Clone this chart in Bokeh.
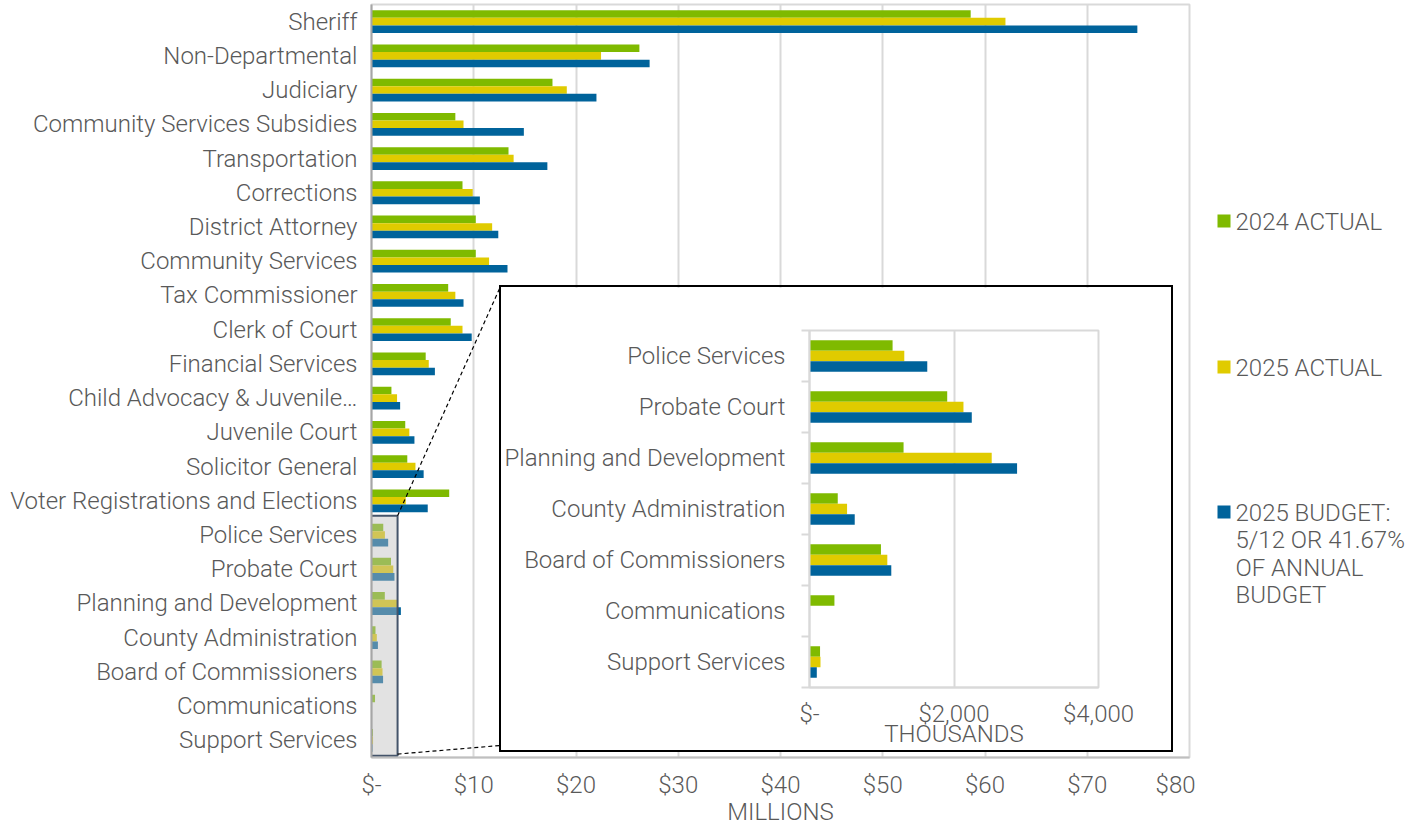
from bokeh.plotting import figure
from bokeh.models import Range1d, FixedTicker
from bokeh.embed import file_html
from bokeh.resources import INLINE
from bokeh.core.properties import value

# ---------------- DATA ----------------
categories = [
    "Sheriff", "Non-Departmental", "Judiciary", "Community Services Subsidies",
    "Transportation", "Corrections", "District Attorney", "Community Services",
    "Tax Commissioner", "Clerk of Court", "Financial Services",
    "Child Advocacy & Juvenile\u2026", "Juvenile Court", "Solicitor General",
    "Voter Registrations and Elections", "Police Services", "Probate Court",
    "Planning and Development", "County Administration",
    "Board of Commissioners", "Communications", "Support Services",
]
# large departments, millions of dollars (first 15 categories)
large_2024_actual = [58.6, 26.2, 17.7, 8.2, 13.4, 8.9, 10.2, 10.2, 7.5, 7.75, 5.3, 1.95, 3.3, 3.5, 7.6]
large_2025_actual = [62.0, 22.45, 19.1, 9.0, 13.9, 9.9, 11.8, 11.5, 8.2, 8.9, 5.6, 2.5, 3.7, 4.3, 3.35]
large_2025_budget = [74.9, 27.2, 22.0, 14.9, 17.2, 10.6, 12.4, 13.3, 9.0, 9.8, 6.2, 2.8, 4.2, 5.1, 5.5]

# small departments (inset), thousands of dollars
inset_categories = ["Police Services", "Probate Court", "Planning and Development",
                    "County Administration", "Board of Commissioners",
                    "Communications", "Support Services"]
small_2024_actual = [1150, 1906, 1302, 391, 989, 345, 146]
small_2025_actual = [1312, 2131, 2522, 520, 1077, 0, 152]
small_2025_budget = [1630, 2246, 2873, 626, 1132, 0, 101]

series_names = ["2024 ACTUAL", "2025 ACTUAL",
                "2025 BUDGET:\n5/12 OR 41.67%\nOF ANNUAL\nBUDGET"]
colors = ["#7fba00", "#e0cb00", "#00639b"]

main_ticks = [0, 10, 20, 30, 40, 50, 60, 70, 80]
main_tick_labels = ["$-", "$10", "$20", "$30", "$40", "$50", "$60", "$70", "$80"]
inset_ticks = [0, 2000, 4000]
inset_tick_labels = ["$-", "$2,000", "$4,000"]

# ---------------- DERIVED ----------------
main_series = [
    large_2024_actual + [v / 1000 for v in small_2024_actual],
    large_2025_actual + [v / 1000 for v in small_2025_actual],
    large_2025_budget + [v / 1000 for v in small_2025_budget],
]
inset_series = [small_2024_actual, small_2025_actual, small_2025_budget]

FONT = "Roboto Light, Roboto"
FS = "24px"
TXT = "#595959"
GRID = "#d9d9d9"

n = len(categories)
m = len(inset_categories)

# ---------------- MAIN CHART ----------------
MAIN_W, MAIN_H = 1195, 830
ML, MR, MT, MB = 371, 6, 4, 73
p = figure(width=MAIN_W, height=MAIN_H, output_backend="svg", toolbar_location=None,
           x_range=Range1d(main_ticks[0], main_ticks[-1]),
           y_range=Range1d(n - 0.5, -0.5),
           min_border_left=ML, min_border_right=MR, min_border_top=MT, min_border_bottom=MB)
p.styles = {"position": "absolute", "left": "0px", "top": "0px"}
p.background_fill_color = "white"
p.border_fill_color = "white"
p.outline_line_color = GRID
p.outline_line_width = 2

off = [-0.222, 0.0, 0.222]
for k in range(3):
    p.hbar(y=[i + off[k] for i in range(n)], right=main_series[k], left=0,
           height=0.222, fill_color=colors[k], line_color=None)

# zoom region marker (small departments)
first_small = n - m
zoom_right = 2.55
zoom_top = first_small - 0.56
zoom_bottom = n - 0.55
p.quad(left=[-0.2], right=[zoom_right], top=[zoom_top], bottom=[zoom_bottom],
       fill_color="#bfbfbf", fill_alpha=0.45, line_color="#44546a", line_width=2)

# connector lines to the inset box (inset box placement in page pixels)
INSET_LEFT, INSET_TOP, INSET_W, INSET_H = 501, 287, 670, 463
frame_w = MAIN_W - ML - MR
frame_h = MAIN_H - MT - MB
def px_to_x(px):
    return (px - ML) / frame_w * (main_ticks[-1] - main_ticks[0])
def py_to_y(py):
    return (py - MT) / frame_h * n - 0.5
p.segment(x0=[zoom_right, zoom_right], y0=[zoom_top, zoom_bottom - 0.05],
          x1=[px_to_x(INSET_LEFT - 1)] * 2,
          y1=[py_to_y(INSET_TOP - 1), py_to_y(INSET_TOP + INSET_H - 5)],
          line_color="black", line_width=1.2, line_dash="4 3")

p.xgrid.ticker = FixedTicker(ticks=main_ticks)
p.xgrid.grid_line_color = GRID
p.xgrid.grid_line_width = 2
p.ygrid.grid_line_color = None

xa = p.xaxis[0]
xa.ticker = FixedTicker(ticks=main_ticks)
xa.major_label_overrides = {t: l for t, l in zip(main_ticks, main_tick_labels)}
xa.axis_label = "MILLIONS"
ya = p.yaxis[0]
ya.ticker = FixedTicker(ticks=list(range(n)))
ya.major_label_overrides = {i: c for i, c in enumerate(categories)}
for ax in (xa, ya):
    ax.major_tick_line_color = None
    ax.minor_tick_line_color = None
    ax.major_tick_out = 0
    ax.major_tick_in = 0
    ax.axis_line_color = "#a6a6a6"
    ax.axis_line_width = 2
    ax.major_label_text_font = FONT
    ax.major_label_text_font_size = FS
    ax.major_label_text_color = TXT
    ax.axis_label_text_font = FONT
    ax.axis_label_text_font_size = FS
    ax.axis_label_text_color = TXT
    ax.axis_label_text_font_style = "normal"
xa.axis_line_color = "#bfbfbf"
xa.major_label_standoff = 13
xa.axis_label_standoff = -4
ya.major_label_standoff = 14

# ---------------- INSET CHART ----------------
IL = 809 - INSET_LEFT
IR = INSET_LEFT + INSET_W - 1098
IT = 330 - INSET_TOP
IB = INSET_TOP + INSET_H - 687
q = figure(width=INSET_W, height=INSET_H, output_backend="svg", toolbar_location=None,
           x_range=Range1d(inset_ticks[0], inset_ticks[-1]),
           y_range=Range1d(m - 0.5, -0.5),
           min_border_left=IL, min_border_right=IR, min_border_top=IT, min_border_bottom=IB)
q.styles = {"position": "absolute", "left": f"{INSET_LEFT}px", "top": f"{INSET_TOP}px",
            "outline": "2px solid black"}
q.background_fill_color = "white"
q.border_fill_color = "white"
q.outline_line_color = GRID
q.outline_line_width = 2

ioff = [-0.205, 0.0, 0.205]
for k in range(3):
    q.hbar(y=[i + ioff[k] for i in range(m)], right=inset_series[k], left=0,
           height=0.205, fill_color=colors[k], line_color=None)

q.xgrid.ticker = FixedTicker(ticks=inset_ticks)
q.xgrid.grid_line_color = GRID
q.xgrid.grid_line_width = 2
q.ygrid.grid_line_color = None

qx = q.xaxis[0]
qx.ticker = FixedTicker(ticks=inset_ticks)
qx.major_label_overrides = {t: l for t, l in zip(inset_ticks, inset_tick_labels)}
qx.axis_label = "THOUSANDS"
qy = q.yaxis[0]
qy.ticker = FixedTicker(ticks=list(range(m)), minor_ticks=[i - 0.5 for i in range(m + 1)])
qy.major_label_overrides = {i: c for i, c in enumerate(inset_categories)}
for ax in (qx, qy):
    ax.major_tick_line_color = None
    ax.major_tick_out = 0
    ax.major_tick_in = 0
    ax.axis_line_color = GRID
    ax.axis_line_width = 2
    ax.major_label_text_font = FONT
    ax.major_label_text_font_size = FS
    ax.major_label_text_color = TXT
    ax.axis_label_text_font = FONT
    ax.axis_label_text_font_size = FS
    ax.axis_label_text_color = TXT
    ax.axis_label_text_font_style = "normal"
qx.minor_tick_line_color = None
qy.minor_tick_line_color = GRID
qy.minor_tick_line_width = 2
qy.minor_tick_out = 8
qy.minor_tick_in = 0
qy.major_label_standoff = 16
qx.major_label_standoff = 12
qx.axis_label_standoff = -11

# ---------------- LEGEND ----------------
LEG_LEFT, LEG_W = 1195, 227
leg = figure(width=LEG_W, height=MAIN_H, output_backend="svg", toolbar_location=None,
             x_range=Range1d(0, LEG_W), y_range=Range1d(MAIN_H, 0),
             min_border=0, min_border_left=0, min_border_right=0,
             min_border_top=0, min_border_bottom=0)
leg.styles = {"position": "absolute", "left": f"{LEG_LEFT}px", "top": "0px"}
leg.axis.visible = False
leg.grid.visible = False
leg.outline_line_color = None
leg.background_fill_color = "white"
leg.border_fill_color = "white"
legend_y = [220.5, 366.5, 511.5]
leg.scatter(x=[28.5] * 3, y=legend_y, marker="square", size=13,
            fill_color=colors, line_color=None)
leg.text(x=[40] * 3, y=[v - 13 for v in legend_y], text=series_names,
         text_font=value(FONT), text_font_size=FS, text_color=TXT,
         text_baseline="top", text_align="left", text_line_height=0.98)

open("out.html", "w").write(file_html([p, q, leg], INLINE, title="Departmental spending"))
